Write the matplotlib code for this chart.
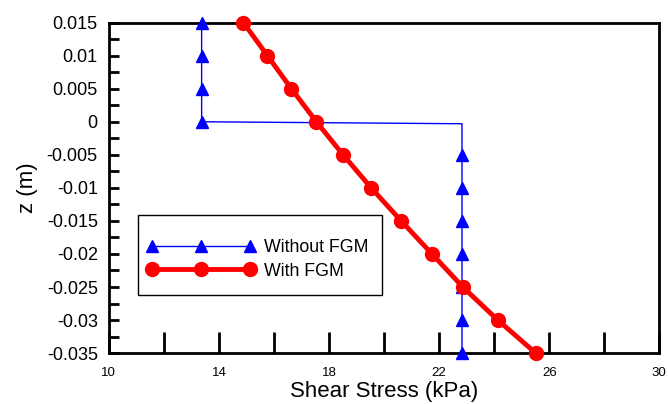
import matplotlib.pyplot as plt
from matplotlib.patches import Rectangle
from matplotlib.ticker import FixedLocator, FuncFormatter, MultipleLocator

plt.rcParams['font.family'] = ['Liberation Sans', 'DejaVu Sans']

# data
z_without = [0.015, 0.01, 0.005, 0.0, -0.0003, -0.005, -0.01, -0.015, -0.02, -0.025, -0.03, -0.035]
tau_without = [13.37, 13.37, 13.37, 13.37, 22.83, 22.83, 22.83, 22.83, 22.83, 22.83, 22.83, 22.83]

z_with = [0.015, 0.01, 0.005, 0.0, -0.005, -0.01, -0.015, -0.02, -0.025, -0.03, -0.035]
tau_with = [14.89, 15.76, 16.63, 17.54, 18.51, 19.53, 20.62, 21.74, 22.86, 24.13, 25.51]

x_labels = [10, 14, 18, 22, 26, 30]
x_minor = [12, 16, 20, 24, 28]

fig = plt.figure(figsize=(6.68, 4.04), dpi=100)
ax = fig.add_axes([0.163, 0.126, 0.824, 0.818])

ax.plot(tau_without, z_without, color='blue', lw=1, marker='^', ms=8,
        markevery=[0, 1, 2, 3, 5, 6, 7, 8, 9, 10, 11], label='Without FGM',
        clip_on=False, zorder=3)
ax.plot(tau_with, z_with, color='red', lw=3.5, marker='o', ms=10,
        label='With FGM', clip_on=False, zorder=4)

ax.set_xlim(10, 30)
ax.set_ylim(-0.035, 0.015)

ax.xaxis.set_major_locator(FixedLocator(x_labels))
ax.xaxis.set_minor_locator(FixedLocator(x_minor))
ax.yaxis.set_major_locator(MultipleLocator(0.005))
ax.yaxis.set_minor_locator(MultipleLocator(0.0025))

ax.xaxis.set_major_formatter(FuncFormatter(lambda v, p: '%g' % v))
ax.yaxis.set_major_formatter(FuncFormatter(lambda v, p: '%g' % round(v, 4)))

ax.tick_params(axis='x', which='both', direction='in', length=15, width=2,
               top=False, labelsize=9.5, pad=10)
ax.tick_params(axis='y', which='both', direction='in', length=7, width=2,
               right=False, labelsize=13, pad=8)
for s in ax.spines.values():
    s.set_linewidth(2)

ax.set_xlabel('Shear Stress (kPa)', fontsize=16, labelpad=1.5)
ax.set_ylabel('z (m)', fontsize=16, labelpad=6)

# legend box drawn separately (tight sides, tall top/bottom like the original)
ax.add_patch(Rectangle((0.0527, 0.176), 0.443, 0.242, transform=ax.transAxes,
                       facecolor='white', edgecolor='black', lw=1, zorder=5))
leg = ax.legend(loc='center left', bbox_to_anchor=(0.069, 0.283), numpoints=3,
                handlelength=6.1, fontsize=12.8, frameon=False,
                borderpad=0, borderaxespad=0, labelspacing=0.35,
                handletextpad=0.5)
leg.set_zorder(6)

fig.savefig('out.png', dpi=100)
